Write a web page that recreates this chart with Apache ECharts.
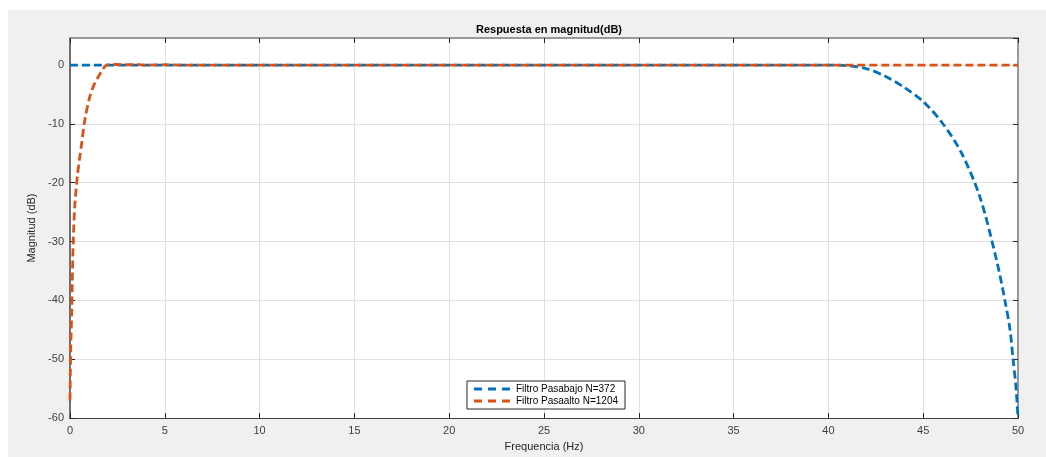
<!DOCTYPE html>
<html>
<head>
<meta charset="utf-8">
<script src="https://cdn.jsdelivr.net/npm/echarts@6/dist/echarts.min.js"></script>
<style>
    html, body { margin: 0; padding: 0; background: #ffffff; }
    #chart { position: absolute; left: 8px; top: 10px; width: 1038px; height: 447px; background: #f0f0f0; }
</style>
</head>
<body>
<div id="chart"></div>
<script>
// frecuencias (Hz) y magnitud (dB)
const lowFreq = [0, 5, 10, 20, 30, 38, 40, 41, 42, 43, 44, 45, 46, 47, 48, 48.88, 49.31, 49.58, 49.74, 49.89, 50]
const lowMag = [0, 0, 0, 0, 0, 0, 0, -0.1, -0.6, -1.9, -3.8, -6.2, -9.8, -14.8, -22.5, -33.3, -40, -45, -50, -54.6, -60]

const highFreq = [0, 0.02, 0.04, 0.09, 0.12, 0.17, 0.25, 0.39, 0.5, 0.62, 0.79, 1.05, 1.25, 1.49, 1.7, 1.93, 2.5, 3, 3.5, 4, 5, 6, 10, 20, 30, 40, 50]
const highMag = [-57, -52, -48, -42, -37, -30, -24, -18.8, -16, -13.2, -9.2, -5.3, -3.5, -2, -0.9, 0, 0.1, 0.05, 0.1, 0, 0.05, 0, 0, 0, 0, 0, 0]

const xTicks = [0, 5, 10, 15, 20, 25, 30, 35, 40, 45, 50]
const yTicks = [-60, -50, -40, -30, -20, -10, 0]

const seriesNames = ['Filtro Pasabajo N=372', 'Filtro Pasaalto N=1204']

const font = '"Liberation Sans", Arial, sans-serif'
const lowData = lowFreq.map((f, i) => [f, lowMag[i]])
const highData = highFreq.map((f, i) => [f, highMag[i]])

//icono de leyenda: linea discontinua
const dashIcon = 'path://M0,0h8v3h-8z M14,0h8v3h-8z M28,0h8v3h-8z'

let myChart = echarts.init(document.getElementById('chart'))

const option = {
    animation: false,
    title: {
        text: 'Respuesta en magnitud(dB)',
        left: 536,
        top: 9,
        textAlign: 'center',
        textStyle: { fontFamily: font, fontSize: 11, fontWeight: 'bold', color: '#000' }
    },
    grid: { left: 62, right: 28, top: 28, bottom: 36, show: true, backgroundColor: '#ffffff', borderWidth: 0 },
    legend: {
        orient: 'vertical',
        left: 459,
        top: 371,
        data: seriesNames,
        icon: dashIcon,
        backgroundColor: '#ffffff',
        borderColor: '#262626',
        borderWidth: 1,
        borderRadius: 0,
        padding: [3, 7, 3, 7],
        itemGap: 2,
        itemWidth: 38,
        itemHeight: 3,
        textStyle: { fontFamily: font, fontSize: 10, color: '#000' }
    },
    xAxis: [{
        type: 'value',
        min: 0,
        max: 50,
        interval: 5,
        name: 'Frequencia (Hz)',
        nameLocation: 'middle',
        nameGap: 21,
        nameTextStyle: { fontFamily: font, fontSize: 11, color: '#262626' },
        axisLine: { onZero: false, lineStyle: { color: '#404040', width: 1 } },
        axisTick: { inside: true, length: 5, lineStyle: { color: '#262626' } },
        axisLabel: { fontFamily: font, fontSize: 11, color: '#404040', margin: 7, formatter: v => xTicks.includes(v) ? String(v) : '' },
        splitLine: { show: true, lineStyle: { color: '#e0e0e0', width: 1 } }
    }, {
        type: 'value',
        position: 'top',
        min: 0,
        max: 50,
        interval: 5,
        axisLine: { onZero: false, lineStyle: { color: '#999999', width: 2 } },
        axisTick: { inside: true, length: 5, lineStyle: { color: '#262626' } },
        axisLabel: { show: false },
        splitLine: { show: false }
    }],
    yAxis: [{
        type: 'value',
        min: -60,
        max: 4.6,
        interval: 10,
        name: 'Magnitud (dB)',
        nameLocation: 'middle',
        nameGap: 29,
        nameRotate: 90,
        nameTextStyle: { fontFamily: font, fontSize: 11, color: '#262626' },
        axisLine: { onZero: false, lineStyle: { color: '#707070', width: 2 } },
        axisTick: { inside: true, length: 5, lineStyle: { color: '#262626' } },
        axisLabel: { fontFamily: font, fontSize: 11, color: '#404040', margin: 6, showMaxLabel: false, formatter: v => yTicks.includes(v) ? String(v) : '' },
        splitLine: { show: true, lineStyle: { color: '#e0e0e0', width: 1 } }
    }, {
        type: 'value',
        position: 'right',
        min: -60,
        max: 4.6,
        interval: 10,
        axisLine: { onZero: false, lineStyle: { color: '#999999', width: 2 } },
        axisTick: { inside: true, length: 5, lineStyle: { color: '#262626' } },
        axisLabel: { show: false },
        splitLine: { show: false }
    }],
    series: [{
        name: seriesNames[0],
        type: 'line',
        data: lowData,
        smooth: 0.3,
        symbol: 'none',
        itemStyle: { color: '#0072BD' },
        lineStyle: { color: '#0072BD', width: 2.8, type: [8, 4] },
        z: 3
    }, {
        name: seriesNames[1],
        type: 'line',
        data: highData,
        smooth: 0.3,
        symbol: 'none',
        itemStyle: { color: '#D95319' },
        lineStyle: { color: '#D95319', width: 2.8, type: [8, 4] },
        z: 4
    }]
}

myChart.setOption(option)
window.onresize = function () {
    myChart.resize()
}
</script>
</body>
</html>
